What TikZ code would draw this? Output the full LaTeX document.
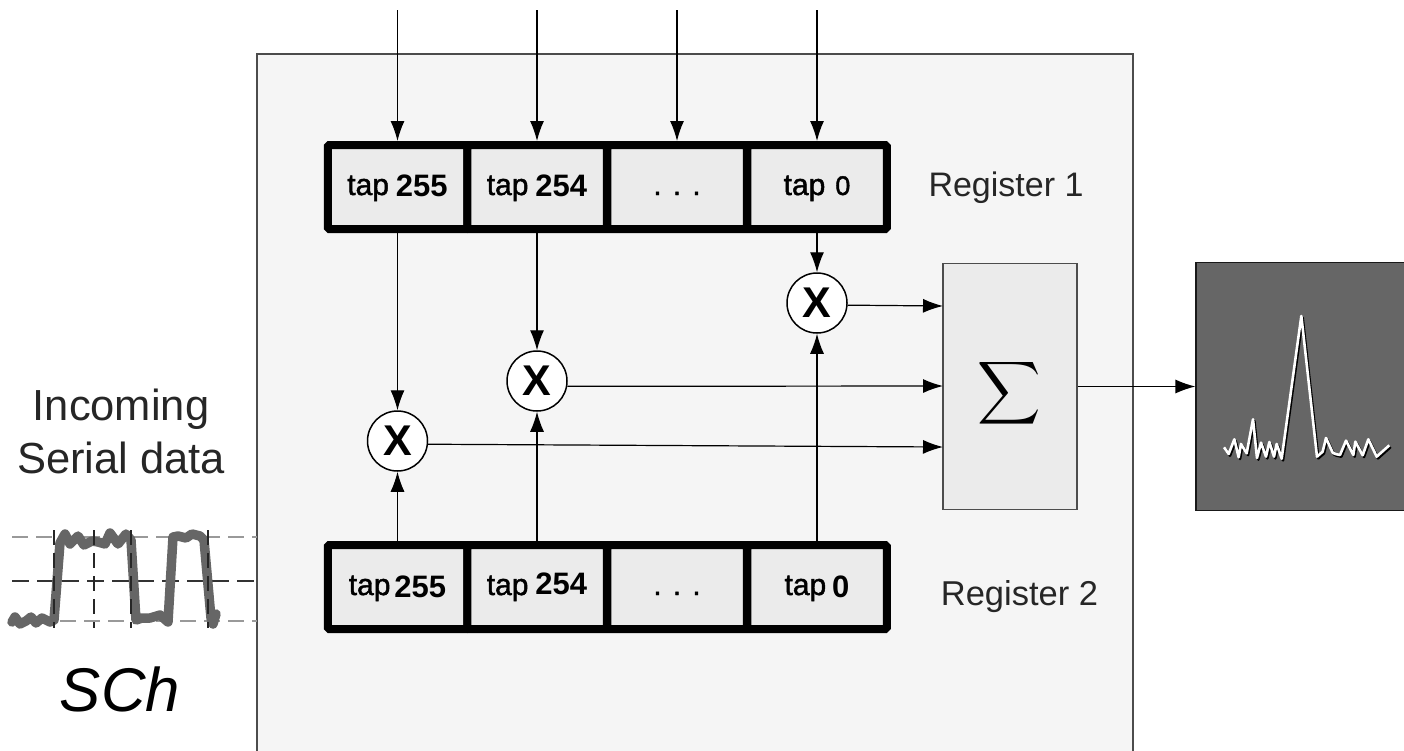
\documentclass[tikz,border=0pt]{standalone}
\usepackage{fontspec}
\setmainfont{Liberation Sans}
\newfontfamily\tapfont{Liberation Sans}[FakeBold=1.5]
\usetikzlibrary{arrows.meta,positioning,calc}
\newcommand{\tapw}[1]{{\fontsize{30}{32}\tapfont #1}}
\newcommand{\tapn}[2][0pt]{\raisebox{#1}{\fontsize{31}{34}\selectfont\bfseries #2}}
\tikzset{
cell/.style={draw=black, line width=8pt, rounded corners=1.5pt, fill=black!8, minimum width=139.5pt, minimum height=84pt, inner sep=0pt, text height=16pt, text depth=0pt},
mult/.style={draw=black, line width=1.5pt, circle, fill=white, minimum size=60pt, inner sep=0pt, font=\fontsize{43}{45}\selectfont\bfseries},
lnk/.style={line width=1.2pt, -{Latex[length=20pt,width=14pt]}},
lbl/.style={inner sep=0pt, align=center}
}
\begin{document}
\begin{tikzpicture}[x=1pt,y=-1pt]
\clip (0,0) rectangle (1404,750);
\node[draw=black!70, line width=1.3pt, fill=black!4, minimum width=876pt, minimum height=712pt, inner sep=0pt] (frame) at (695,410) {};
% input waveform
\draw[black!40, line width=1.6pt, dash pattern=on 16pt off 8pt] (12,537) -- (257,537) (12,621) -- (257,621);
\draw[black!80, line width=1.3pt, dash pattern=on 17pt off 8pt] (12,581) -- (259,581);
\draw[black!60, line width=9.5pt, line join=round, line cap=round] (12,622) -- (15,617) -- (20,624) -- (26,621) -- (31,617) -- (36,623) -- (42,618) -- (50,622) -- (54,620)
  -- (60,543) -- (65,534) -- (70,544) -- (78,536) -- (84,545) -- (92,541) -- (98,542) -- (105,544) -- (110,533) -- (118,544) -- (126,534) -- (131,540)
  -- (136,620) -- (142,618) -- (150,618) -- (160,615) -- (168,622) -- (173,537) -- (178,536) -- (186,538) -- (192,534) -- (200,536) -- (204,540)
  -- (211,618) -- (213,624) -- (216,614);
\draw[black!85, line width=1.3pt, dash pattern=on 15pt off 8pt] (54,530) -- (54,628) (94,530) -- (94,628) (131,530) -- (131,628) (208,530) -- (208,628);
% registers
\node[cell] (a255) at (397.5,187) {\tapw{tap}\hspace{7pt}\tapn[-1pt]{255}};
\node[cell] (a254) at (537,187) {\tapw{tap}\hspace{7pt}\tapn[-1pt]{254}};
\node[cell] (a1) at (677,187) {\tapw{. . .}};
\node[cell] (a0) at (817,187) {\tapw{tap}\hspace{10pt}{\fontsize{27}{30}\tapfont 0}};
\node[cell] (b255) at (397.5,587) {\tapw{tap}\hspace{4pt}\tapn[-2pt]{255}};
\node[cell] (b254) at (537,587) {\tapw{tap}\hspace{7pt}\tapn[1pt]{254}};
\node[cell] (b1) at (677,587) {\tapw{. . .}};
\node[cell] (b0) at (817,587) {\tapw{tap}\hspace{6pt}\tapn[-2pt]{0}};
% multipliers
\node[mult] (x255) at (397.5,441) {X};
\node[mult] (x254) at (537,381) {X};
\node[mult] (x0) at (817,303) {X};
% sum and output
\node[draw=black!70, line width=1.2pt, fill=black!8, minimum width=134pt, minimum height=246pt, inner sep=0pt] (sum) at (1010,386.5) {};
\node[scale=4.4, inner sep=0pt] (sigma) at (1009,393) {$\displaystyle\sum$};
\node[draw=black!90, line width=1.2pt, fill=black!60, minimum width=216pt, minimum height=248pt, inner sep=0pt] (outbox) at (1304,386.5) {};
% top inputs
\coordinate (in255) at (397.5,10);
\coordinate (in254) at (537,10);
\coordinate (in1) at (677,10);
\coordinate (in0) at (817,10);
\draw[lnk] (in255) -- (a255.north);
\draw[lnk] (in254) -- (a254.north);
\draw[lnk] (in1) -- (a1.north);
\draw[lnk] (in0) -- (a0.north);
\draw[lnk] (a255.south) -- (x255.north);
\draw[lnk] (a254.south) -- (x254.north);
\draw[lnk] (a0.south) -- (x0.north);
\draw[lnk] (b255.north) -- (x255.south);
\draw[lnk] (b254.north) -- (x254.south);
\draw[lnk] (b0.north) -- (x0.south);
\coordinate (s0) at (943,306);
\coordinate (s254) at (943,386);
\coordinate (s255) at (943,447);
\draw[lnk] (x0.-4) -- (s0);
\draw[lnk] (x254.-10) -- (s254);
\draw[lnk] (x255.-6) -- (s255);
\draw[lnk] (sum.east) -- (outbox.west);
% correlation peak
\begin{scope}[shift={(1180,250)},x=0.3333pt,y=-0.3333pt]
\draw[black, line width=2.6pt, line join=round, shift={(4,5)}] (132,592) -- (146,612) -- (163,568) -- (176,622) -- (183,582) -- (200,610) -- (219,508) -- (231,624) -- (243,578) -- (258,620) -- (268,576) -- (282,620) -- (290,582) -- (305,626) -- (364,198) -- (411,620) -- (428,605) -- (438,564) -- (458,608) -- (466,612) -- (480,615) -- (498,572) -- (520,615) -- (526,575) -- (548,616) -- (565,568) -- (590,620) -- (628,586);
\draw[white, line width=2.6pt, line join=round] (132,592) -- (146,612) -- (163,568) -- (176,622) -- (183,582) -- (200,610) -- (219,508) -- (231,624) -- (243,578) -- (258,620) -- (268,576) -- (282,620) -- (290,582) -- (305,626) -- (364,198) -- (411,620) -- (428,605) -- (438,564) -- (458,608) -- (466,612) -- (480,615) -- (498,572) -- (520,615) -- (526,575) -- (548,616) -- (565,568) -- (590,620) -- (628,586);
\end{scope}
% labels
\node[lbl, font=\fontsize{34}{36}\selectfont, black!85] (reg1) at (1006,188) {Register 1};
\node[lbl, font=\fontsize{34.5}{36}\selectfont, black!85] (reg2) at (1019.5,597) {Register 2};
\node[lbl, font=\fontsize{43.5}{53}\selectfont, black!85] (serial) at (121,431) {Incoming\\Serial data};
\node[lbl, font=\fontsize{61.7}{64}\selectfont\itshape] (sch) at (120,689) {SCh};
\end{tikzpicture}
\end{document}
